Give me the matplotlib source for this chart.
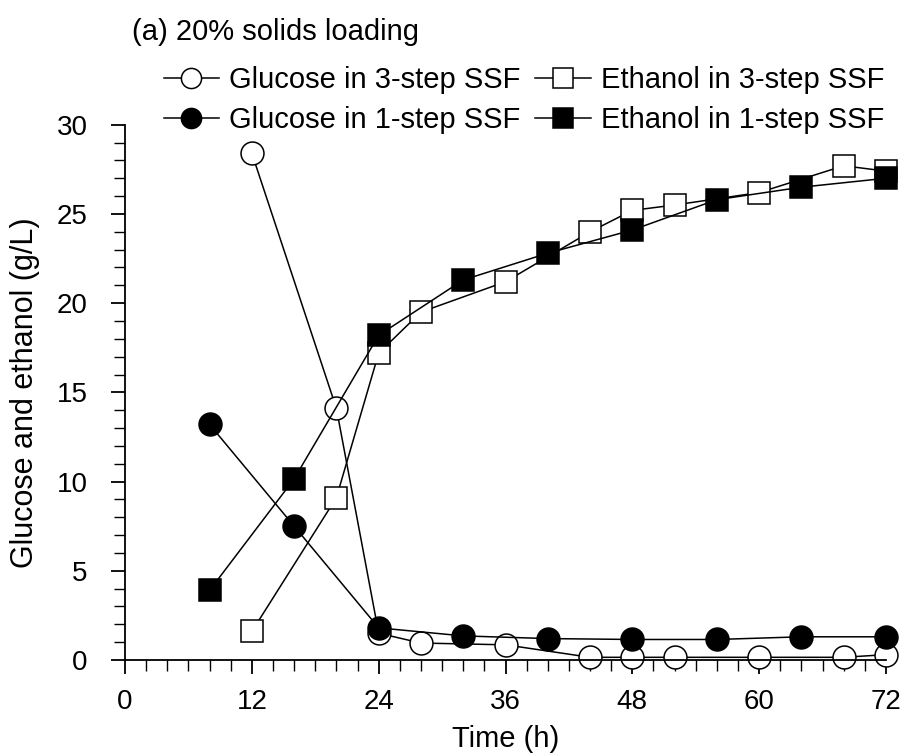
import matplotlib
matplotlib.use("Agg")
import matplotlib.pyplot as plt
from matplotlib.ticker import MultipleLocator

plt.rcParams['font.family'] = ['Liberation Sans', 'DejaVu Sans']

# Glucose / ethanol (g/L) vs time (h)
t_glu3 = [12, 20, 24, 28, 36, 44, 48, 52, 60, 68, 72]
glu3 = [28.4, 14.1, 1.5, 0.95, 0.85, 0.15, 0.15, 0.15, 0.15, 0.15, 0.3]
t_glu1 = [8, 16, 24, 32, 40, 48, 56, 64, 72]
glu1 = [13.2, 7.5, 1.8, 1.35, 1.2, 1.15, 1.15, 1.3, 1.3]
t_eth3 = [12, 20, 24, 28, 36, 44, 48, 52, 60, 68, 72]
eth3 = [1.6, 9.1, 17.2, 19.5, 21.2, 24.0, 25.2, 25.5, 26.2, 27.7, 27.4]
t_eth1 = [8, 16, 24, 32, 40, 48, 56, 64, 72]
eth1 = [3.9, 10.15, 18.2, 21.3, 22.8, 24.1, 25.8, 26.5, 27.0]

fig = plt.figure(figsize=(9.04, 7.56), dpi=100)
ax = fig.add_axes([0.1383, 0.127, 0.8418, 0.708])

common = dict(color='black', linewidth=1.1, markersize=16.5, markeredgewidth=1.1,
              markeredgecolor='black', clip_on=False)
l_g3, = ax.plot(t_glu3, glu3, marker='o', markerfacecolor='white',
                label='Glucose in 3-step SSF', **common)
l_e3, = ax.plot(t_eth3, eth3, marker='s', markerfacecolor='white',
                label='Ethanol in 3-step SSF', **common)
l_g1, = ax.plot(t_glu1, glu1, marker='o', markerfacecolor='black',
                label='Glucose in 1-step SSF', **common)
l_e1, = ax.plot(t_eth1, eth1, marker='s', markerfacecolor='black',
                label='Ethanol in 1-step SSF', **common)

ax.set_xlim(0, 72)
ax.set_ylim(0, 30)
ax.xaxis.set_major_locator(MultipleLocator(12))
ax.xaxis.set_minor_locator(MultipleLocator(2))
ax.yaxis.set_major_locator(MultipleLocator(5))
ax.yaxis.set_minor_locator(MultipleLocator(1))
ax.tick_params(which='major', direction='out', length=10, width=1.3, labelsize=20)
ax.tick_params(axis='x', which='major', pad=11)
ax.tick_params(axis='y', which='major', pad=17)
ax.tick_params(which='minor', direction='out', length=8, width=1.0)
ax.spines['top'].set_visible(False)
ax.spines['right'].set_visible(False)
ax.spines['left'].set_linewidth(1.3)
ax.spines['bottom'].set_linewidth(1.3)

ax.set_xlabel('Time (h)', fontsize=21, labelpad=7)
ax.set_ylabel('Glucose and ethanol (g/L)', fontsize=22, labelpad=12)

fig.text(0.146, 0.958, '(a) 20% solids loading', fontsize=21, ha='left', va='center')

fig.legend(handles=[l_g3, l_g1, l_e3, l_e1], ncol=2, frameon=False,
           fontsize=21, markerscale=0.88, handlelength=1.9, handletextpad=0.35,
           columnspacing=0.5, labelspacing=0.4,
           loc='upper left', bbox_to_anchor=(0.152, 0.947))

fig.savefig('out.png', dpi=100)
